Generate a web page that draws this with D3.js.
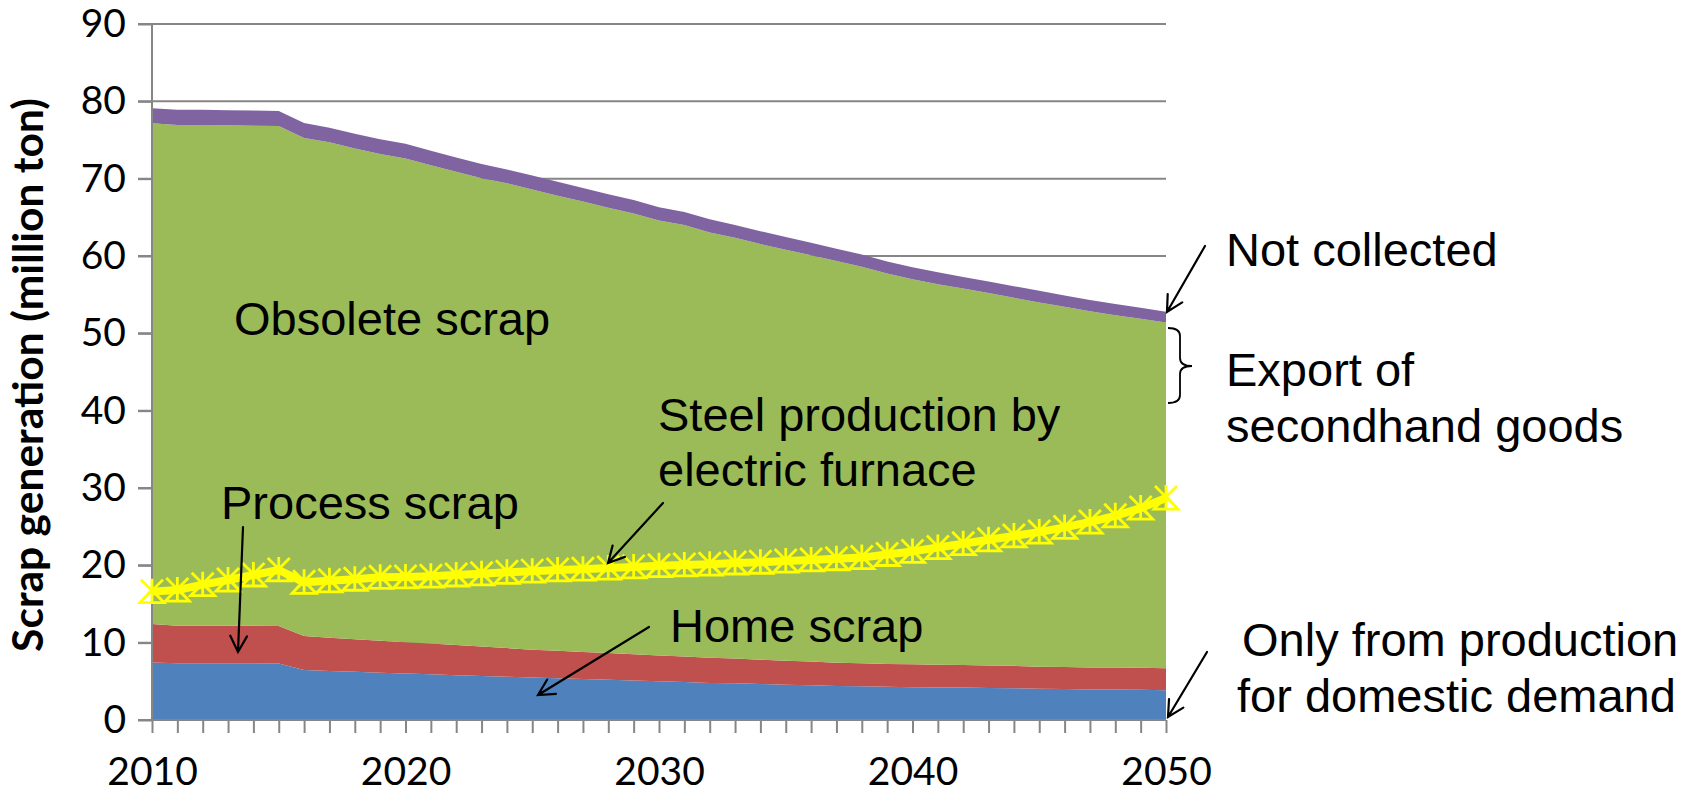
<!DOCTYPE html>
<html>
<head>
<meta charset="utf-8">
<script src="https://cdn.jsdelivr.net/npm/d3@7"></script>
<style>
  html, body { margin: 0; padding: 0; background: #ffffff; }
  svg { display: block; }
</style>
</head>
<body>
<svg id="chart" width="1704" height="795"></svg>
<script>
// Scrap generation by source, 2010-2050 (million ton)
const years = d3.range(2010, 2051);

const homeScrap = [
  7.45, 7.35, 7.35, 7.35, 7.35, 7.3, 6.45, 6.35, 6.25, 6.1,
  6.0, 5.9, 5.8, 5.7, 5.6, 5.5, 5.4, 5.3, 5.2, 5.1,
  5.0, 4.9, 4.8, 4.75, 4.65, 4.55, 4.5, 4.4, 4.35, 4.3,
  4.25, 4.2, 4.2, 4.15, 4.1, 4.05, 4.0, 3.95, 3.95, 3.9,
  3.85
];

const processScrap = [
  4.95, 4.85, 4.85, 4.85, 4.85, 4.85, 4.4, 4.3, 4.2, 4.15,
  4.05, 4.0, 3.9, 3.8, 3.7, 3.6, 3.55, 3.5, 3.45, 3.4,
  3.35, 3.3, 3.25, 3.2, 3.15, 3.1, 3.05, 3.0, 3.0, 2.95,
  2.95, 2.95, 2.9, 2.9, 2.9, 2.85, 2.85, 2.85, 2.85, 2.85,
  2.85
];

const obsoleteScrap = [
  64.75, 64.75, 64.75, 64.7, 64.65, 64.65, 64.4, 64.05, 63.45, 62.95,
  62.55, 61.85, 61.2, 60.55, 60.1, 59.5, 58.85, 58.25, 57.6, 57.0,
  56.25, 55.8, 55.0, 54.4, 53.75, 53.15, 52.55, 51.95, 51.25, 50.5,
  49.8, 49.2, 48.7, 48.15, 47.6, 47.1, 46.6, 46.05, 45.55, 45.15,
  44.7
];

const notCollected = [
  1.95, 1.95, 1.95, 1.95, 1.95, 1.95, 1.95, 1.9, 1.9, 1.9,
  1.9, 1.85, 1.85, 1.85, 1.8, 1.8, 1.8, 1.75, 1.75, 1.75,
  1.7, 1.7, 1.7, 1.65, 1.65, 1.65, 1.6, 1.6, 1.6, 1.55,
  1.55, 1.55, 1.5, 1.5, 1.5, 1.5, 1.45, 1.45, 1.45, 1.4,
  1.4
];

// Steel production by electric furnace (million ton)
const electricFurnace = [
  16.6, 16.8, 17.5, 18.1, 18.75, 19.4, 17.8, 18.0, 18.2, 18.45,
  18.5, 18.6, 18.75, 18.9, 19.1, 19.25, 19.4, 19.5, 19.65, 19.8,
  19.95, 20.05, 20.15, 20.3, 20.4, 20.55, 20.7, 20.85, 21.0, 21.4,
  21.8, 22.3, 22.8, 23.3, 23.8, 24.3, 24.9, 25.6, 26.4, 27.4,
  28.7
];

const seriesKeys = ["home", "process", "obsolete", "notCollected"];
const seriesColors = ["#4F81BD", "#C0504D", "#9BBB59", "#8064A2"];
const yTickValues = [0, 10, 20, 30, 40, 50, 60, 70, 80, 90];
const xTickLabels = [2010, 2020, 2030, 2040, 2050];
const yAxisTitle = "Scrap generation (million ton)";

const rows = years.map((yr, i) => ({
  year: yr,
  home: homeScrap[i],
  process: processScrap[i],
  obsolete: obsoleteScrap[i],
  notCollected: notCollected[i]
}));

// ---- layout ----
const svg = d3.select("#chart");
const plot = { left: 152, right: 1166, top: 24, bottom: 720 };
const gridColor = "#868686";
const tickFont = "Lato, 'Open Sans', sans-serif";
const noteFont = "'Liberation Sans', Arial, sans-serif";

const x = d3.scaleLinear().domain([2010, 2050]).range([plot.left, plot.right]);
const y = d3.scaleLinear().domain([0, 90]).range([plot.bottom, plot.top]);

svg.append("rect").attr("width", 1704).attr("height", 795).attr("fill", "#ffffff");

// horizontal gridlines (with the outward tick stub on the left)
svg.append("g")
  .selectAll("line")
  .data(yTickValues.filter(v => v > 0))
  .join("line")
  .attr("x1", plot.left - 14)
  .attr("x2", plot.right)
  .attr("y1", d => y(d))
  .attr("y2", d => y(d))
  .attr("stroke", gridColor)
  .attr("stroke-width", 2);

// stacked areas
const stacked = d3.stack().keys(seriesKeys)(rows);
const area = d3.area()
  .x(d => x(d.data.year))
  .y0(d => y(d[0]))
  .y1(d => y(d[1]));

svg.append("g")
  .selectAll("path")
  .data(stacked)
  .join("path")
  .attr("d", area)
  .attr("fill", (d, i) => seriesColors[i]);

// y axis
const yAxis = d3.axisLeft(y)
  .tickValues(yTickValues)
  .tickSize(14)
  .tickPadding(12)
  .tickFormat(d3.format("d"));

const gy = svg.append("g")
  .attr("transform", `translate(${plot.left},0)`)
  .call(yAxis);
gy.select(".domain").attr("stroke", gridColor).attr("stroke-width", 2)
  .attr("d", `M0,${plot.top}V${plot.bottom}`);
gy.selectAll(".tick line").attr("stroke", gridColor).attr("stroke-width", 2);
gy.selectAll(".tick text")
  .attr("fill", "#000")
  .style("font-family", tickFont)
  .style("font-size", "39px");

// x axis: a tick every year, labels every decade
const xAxis = d3.axisBottom(x)
  .tickValues(years)
  .tickSize(13)
  .tickPadding(24)
  .tickFormat(d => xTickLabels.includes(d) ? String(d) : "");

const gx = svg.append("g")
  .attr("transform", `translate(0,${plot.bottom})`)
  .call(xAxis);
gx.select(".domain").attr("stroke", gridColor).attr("stroke-width", 2)
  .attr("d", `M${plot.left - 14},0H${plot.right}`);
gx.selectAll(".tick line").attr("stroke", gridColor).attr("stroke-width", 2);
gx.selectAll(".tick text")
  .attr("fill", "#000")
  .style("font-family", tickFont)
  .style("font-size", "39px");

// y axis title
const title = svg.append("text")
  .attr("transform", `translate(43,${(plot.top + plot.bottom) / 2 + 3}) rotate(-90)`)
  .attr("text-anchor", "middle")
  .style("font-family", tickFont)
  .style("font-weight", "bold")
  .style("font-size", "40px")
  .text(yAxisTitle);
const titleLen = title.node().getComputedTextLength();
title.style("font-size", (40 * 554 / titleLen).toFixed(2) + "px");

// electric furnace production line with markers
const yellow = "#FFFF00";
const line = d3.line()
  .x((d, i) => x(years[i]))
  .y(d => y(d));

svg.append("path")
  .datum(electricFurnace)
  .attr("d", line)
  .attr("fill", "none")
  .attr("stroke", yellow)
  .attr("stroke-width", 8)
  .attr("stroke-linejoin", "round");

const markerPath = "M-11,-12L11,10M-11,10L11,-12M0,-13V11M0,-2L12,11H-12Z";
svg.append("g")
  .selectAll("path")
  .data(electricFurnace)
  .join("path")
  .attr("transform", (d, i) => `translate(${x(years[i])},${y(d)})`)
  .attr("d", markerPath)
  .attr("fill", "none")
  .attr("stroke", yellow)
  .attr("stroke-width", 2.8);

// ---- annotations ----
const notes = [
  { text: "Obsolete scrap", x: 234, y: 335 },
  { text: "Steel production by", x: 658, y: 431 },
  { text: "electric furnace", x: 658, y: 486 },
  { text: "Process scrap", x: 221, y: 519 },
  { text: "Home scrap", x: 670, y: 642 },
  { text: "Not collected", x: 1226, y: 266 },
  { text: "Export of", x: 1226, y: 386 },
  { text: "secondhand goods", x: 1226, y: 442 },
  { text: "Only from production", x: 1242, y: 656 },
  { text: "for domestic demand", x: 1237, y: 712 }
];

svg.append("g")
  .selectAll("text")
  .data(notes)
  .join("text")
  .attr("x", d => d.x)
  .attr("y", d => d.y)
  .attr("fill", "#000")
  .style("font-family", noteFont)
  .style("font-size", "47px")
  .text(d => d.text);

const arrows = [
  { from: [1205, 246], to: [1167, 312] },
  { from: [243, 527], to: [238, 652] },
  { from: [649, 627], to: [538, 695] },
  { from: [663, 503], to: [608, 563] },
  { from: [1207, 652], to: [1168, 717] }
];

const arrowG = svg.append("g")
  .attr("stroke", "#000")
  .attr("stroke-width", 2.2)
  .attr("fill", "none")
  .attr("stroke-linecap", "round");

arrows.forEach(a => {
  const [x1, y1] = a.from;
  const [x2, y2] = a.to;
  const ang = Math.atan2(y2 - y1, x2 - x1);
  const len = 18, spread = Math.PI / 6.5;
  const h1 = [x2 - len * Math.cos(ang - spread), y2 - len * Math.sin(ang - spread)];
  const h2 = [x2 - len * Math.cos(ang + spread), y2 - len * Math.sin(ang + spread)];
  arrowG.append("path")
    .attr("d", `M${x1},${y1}L${x2},${y2}M${h1[0]},${h1[1]}L${x2},${y2}L${h2[0]},${h2[1]}`);
});

// brace beside the export label
svg.append("path")
  .attr("d", "M1168,328 Q1180,328 1180,336 V358 Q1180,366 1192,366 Q1180,366 1180,374 V395 Q1180,403 1168,403")
  .attr("fill", "none")
  .attr("stroke", "#000")
  .attr("stroke-width", 1.8);
</script>
</body>
</html>
